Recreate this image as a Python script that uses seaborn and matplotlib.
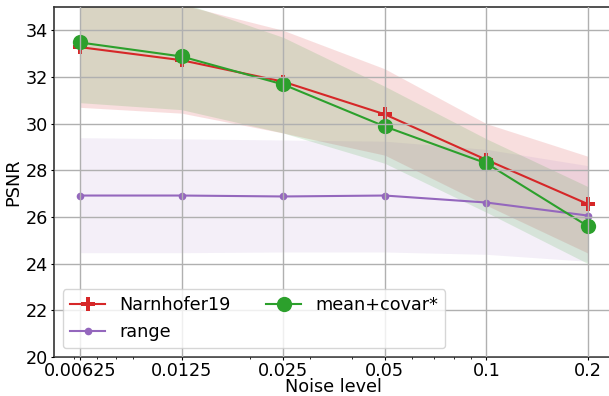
import numpy as np
import pandas as pd
import matplotlib
matplotlib.use("Agg")
import matplotlib.pyplot as plt
import matplotlib.ticker as mticker
import seaborn as sns

# noise levels (x axis, log scale)
noise = [0.00625, 0.0125, 0.025, 0.05, 0.1, 0.2]
noise_labels = ["0.00625", "0.0125", "0.025", "0.05", "0.1", "0.2"]

# mean PSNR per method
narnhofer = [33.28, 32.72, 31.8, 30.4, 28.45, 26.55]
range_vals = [26.92, 26.92, 26.88, 26.92, 26.62, 26.06]
meancovar = [33.48, 32.88, 31.68, 29.88, 28.3, 25.6]

# spread bands (lower / upper)
narnhofer_lo = [30.7, 30.45, 29.6, 28.65, 26.5, 24.45]
narnhofer_hi = [35.6, 35.1, 34.0, 32.35, 30.0, 28.6]
range_lo = [24.47, 24.47, 24.5, 24.5, 24.4, 24.1]
range_hi = [29.4, 29.35, 29.3, 29.25, 28.9, 28.2]
meancovar_lo = [30.9, 30.6, 29.6, 28.3, 26.2, 24.0]
meancovar_hi = [36.1, 35.2, 33.7, 31.6, 29.35, 27.3]

methods = ["Narnhofer19", "range", "mean+covar*"]
colors = {"Narnhofer19": "tab:red", "range": "tab:purple", "mean+covar*": "tab:green"}
markers = {"Narnhofer19": "P", "range": "o", "mean+covar*": "o"}
sizes = {"Narnhofer19": 10, "range": 5.5, "mean+covar*": 11}
band_alpha = {"Narnhofer19": 0.15, "range": 0.1, "mean+covar*": 0.15}

df = pd.DataFrame({
    "noise": noise * 3,
    "psnr": narnhofer + range_vals + meancovar,
    "lo": narnhofer_lo + range_lo + meancovar_lo,
    "hi": narnhofer_hi + range_hi + meancovar_hi,
    "method": [m for m in methods for _ in noise],
})

plt.rcParams["font.size"] = 12.7
fig = plt.figure(figsize=(6.09, 3.96), dpi=100)
ax = fig.add_axes([54 / 609, 1 - 357 / 396, (613.5 - 54) / 609, (357 - 7) / 396])

for m in methods:
    d = df[df["method"] == m]
    ax.fill_between(d["noise"], d["lo"], d["hi"], color=colors[m],
                    alpha=band_alpha[m], linewidth=0)

for m in methods:
    d = df[df["method"] == m]
    sns.lineplot(data=d, x="noise", y="psnr", ax=ax, color=colors[m],
                 marker=markers[m], markersize=sizes[m], markeredgewidth=0,
                 linewidth=1.5, label=m)

ax.set_xscale("log")
ax.set_xlim(0.00625 * 2 ** -0.255, 0.2 * 2 ** 0.25)
ax.set_ylim(20, 35)
ax.set_xticks(noise, noise_labels)
ax.xaxis.set_minor_formatter(mticker.NullFormatter())
ax.set_yticks(np.arange(20, 35, 2))
ax.tick_params(which="major", length=2.5, pad=2)
ax.tick_params(axis="x", which="major", pad=1)
ax.tick_params(which="minor", length=1.5)
ax.grid(True, which="major", color="#b0b0b0", linewidth=1)
ax.set_axisbelow(False)
ax.set_xlabel("Noise level", labelpad=-1.5)
ax.set_ylabel("PSNR", labelpad=2)
for s in ax.spines.values():
    s.set_color("#333333")
    s.set_linewidth(1.2)

ax.legend(loc="lower left", ncol=2, fontsize=12.7)

fig.savefig("out.png", dpi=100)
